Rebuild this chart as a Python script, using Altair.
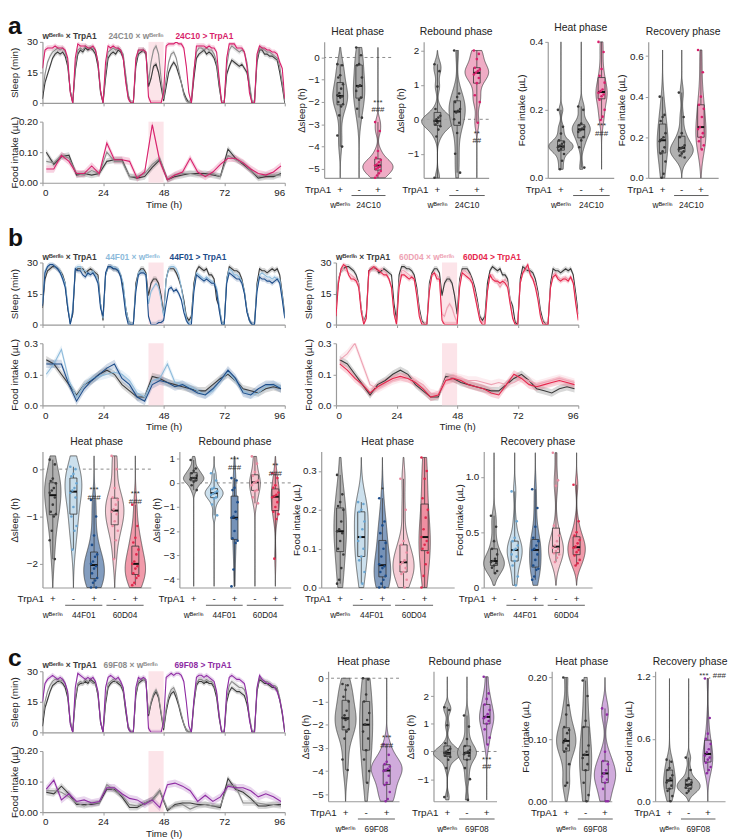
import altair as alt
import pandas as pd

FONT = "Liberation Sans"
INK = "#222222"
AXC = "#9a9a9a"

HOURS = list(range(97))
FOOD_T = [1.5 + 3 * k for k in range(32)]
HEAT = [42, 48]
WB = "wᴮᵉʳˡⁱⁿ"

# ---------------- section a : time series ----------------
A_NAMES = [WB + " × TrpA1", "24C10 × " + WB, "24C10 > TrpA1"]
A_COLS = ["#3b3b3b", "#8c8c8c", "#d81f6b"]
A_SLEEP_DARK = [2,10,14,18,22,24,25,24,25,23,18,6,0,16,24,26,25,27,26,27,26,24,18,5,0,12,22,24,25,24,26,25,22,12,3,0,0,18,24,25,26,24,8,12,18,19,15,8,1,8,15,18,20,18,14,10,5,2,0,0,12,22,24,25,26,24,25,24,22,18,8,0,0,14,18,21,20,19,18,19,17,15,8,0,0,20,26,26,24,24,23,23,22,21,15,8,0]
A_SLEEP_GREY = [5,14,20,23,25,26,27,26,27,25,20,6,0,18,26,27,26,28,27,27,27,26,20,6,0,15,25,26,27,26,27,26,24,14,4,0,0,20,26,26,26,25,10,20,26,28,24,12,2,12,20,24,25,22,16,10,4,1,0,2,16,25,27,27,26,27,26,26,24,20,10,0,0,18,26,28,27,26,25,26,25,20,10,1,0,22,27,27,26,25,25,24,23,22,18,10,1]
A_SLEEP_EXP = [17,26,27,27,27,28,27,27,27,26,22,5,0,22,29,28,28,28,27,27,28,26,20,6,0,20,28,27,28,27,27,26,22,10,2,0,0,22,26,26,26,25,3,0,0,0,0,0,5,28,29,29,29,30,29,29,27,18,5,0,15,28,28,28,28,27,28,27,27,25,12,0,0,22,29,29,29,27,27,27,25,18,5,0,0,24,28,27,27,26,26,25,25,24,20,17,2]
A_FOOD_DARK = [0.1,0.06,0.085,0.09,0.025,0.03,0.025,0.03,0.07,0.075,0.075,0.02,0.015,0.02,0.05,0.075,0.01,0.02,0.025,0.03,0.03,0.03,0.025,0.02,0.11,0.08,0.06,0.04,0.015,0.02,0.02,0.03]
A_FOOD_GREY = [0.07,0.065,0.09,0.08,0.03,0.025,0.04,0.03,0.1,0.07,0.07,0.02,0.02,0.03,0.06,0.08,0.01,0.025,0.03,0.03,0.025,0.025,0.03,0.02,0.09,0.075,0.065,0.04,0.02,0.025,0.025,0.025]
A_FOOD_EXP = [0.045,0.045,0.09,0.07,0.03,0.03,0.055,0.03,0.13,0.075,0.075,0.07,0.015,0.035,0.19,0.07,0.01,0.025,0.035,0.08,0.035,0.02,0.035,0.06,0.08,0.08,0.065,0.045,0.03,0.025,0.035,0.055]

# ---------------- section b : time series ----------------
B1_NAMES = [WB + " × TrpA1", "44F01 × " + WB, "44F01 > TrpA1"]
B1_COLS = ["#3b3b3b", "#8dbbdb", "#1d4d8a"]
B2_NAMES = [WB + " × TrpA1", "60D04 × " + WB, "60D04 > TrpA1"]
B2_COLS = ["#3b3b3b", "#eea3b4", "#e6264c"]
B_SLEEP_DARK = [8,22,26,27,28,28,27,26,24,20,8,1,5,26,27,27,27,25,26,27,26,25,24,10,2,24,28,28,27,27,26,24,18,8,2,0,0,20,25,27,27,25,14,20,22,22,20,14,5,22,27,27,27,25,22,18,12,4,2,4,20,26,28,27,26,27,24,24,22,12,9,1,0,22,28,27,26,26,25,22,16,7,2,0,0,20,27,26,26,25,26,27,26,27,24,15,5]
B_SLEEP_44C = [10,26,28,29,29,28,27,26,23,20,10,0,8,27,28,28,26,26,24,25,26,24,22,10,3,24,28,28,28,27,27,24,20,8,2,0,0,18,25,26,26,24,10,16,18,20,18,12,4,22,27,28,28,27,24,18,10,3,0,2,18,25,24,23,22,23,22,21,20,18,10,1,0,22,27,26,24,24,23,21,16,7,2,0,0,18,24,25,24,23,23,22,23,22,22,14,4]
B_SLEEP_44E = [9,25,28,29,29,28,27,25,22,18,8,0,6,27,26,26,24,23,25,24,25,23,20,8,4,25,28,28,27,27,26,23,15,5,0,0,0,16,24,25,25,24,4,0,0,0,1,1,2,10,17,18,16,17,15,12,6,2,0,0,16,24,23,22,21,22,21,20,20,16,7,0,0,20,25,24,23,22,22,20,15,6,2,0,0,16,23,22,22,21,21,20,21,22,20,12,3]
B_SLEEP_60C = [5,22,26,27,26,25,24,23,22,20,8,1,4,24,27,27,26,26,27,26,25,22,18,6,0,20,26,26,25,24,23,22,16,6,1,0,0,18,24,25,24,22,5,4,8,10,8,4,1,20,26,26,25,24,21,16,10,3,1,2,16,24,24,22,20,18,20,22,20,12,4,0,0,20,25,26,28,25,22,20,14,5,1,0,0,18,24,25,23,22,22,23,22,23,21,12,3]
B_SLEEP_60E = [4,20,27,29,28,24,22,22,21,18,6,0,3,26,27,28,27,26,25,24,24,22,18,5,0,18,24,24,23,22,23,22,14,4,0,0,0,16,24,25,22,22,2,0,0,0,0,0,0,18,25,24,23,22,20,14,8,2,0,0,16,24,22,21,21,20,21,20,18,10,3,0,0,20,25,27,29,24,22,18,12,4,0,0,0,18,23,24,22,21,22,22,21,23,20,10,2]
B_FOOD_DARK = [0.22,0.2,0.15,0.1,0.05,0.1,0.12,0.15,0.17,0.15,0.1,0.07,0.04,0.04,0.14,0.13,0.11,0.1,0.09,0.08,0.07,0.07,0.1,0.13,0.15,0.12,0.08,0.07,0.06,0.08,0.09,0.08]
B_FOOD_44C = [0.15,0.2,0.27,0.12,0.04,0.1,0.13,0.14,0.15,0.16,0.15,0.12,0.06,0.04,0.12,0.13,0.2,0.11,0.1,0.09,0.07,0.05,0.07,0.12,0.16,0.12,0.07,0.05,0.06,0.09,0.1,0.09]
B_FOOD_44E = [0.2,0.2,0.2,0.1,0.02,0.08,0.12,0.15,0.18,0.2,0.13,0.1,0.04,0.02,0.1,0.12,0.11,0.09,0.1,0.08,0.06,0.05,0.08,0.12,0.17,0.13,0.06,0.05,0.08,0.1,0.1,0.08]
B_FOOD_60C = [0.22,0.25,0.3,0.2,0.1,0.08,0.1,0.12,0.13,0.13,0.12,0.1,0.06,0.05,0.13,0.14,0.13,0.12,0.12,0.11,0.1,0.11,0.1,0.11,0.13,0.12,0.1,0.11,0.12,0.13,0.12,0.11]
B_FOOD_60E = [0.2,0.17,0.13,0.1,0.06,0.09,0.11,0.13,0.14,0.13,0.11,0.08,0.04,0.05,0.12,0.13,0.12,0.1,0.09,0.08,0.06,0.05,0.1,0.15,0.13,0.1,0.09,0.1,0.11,0.12,0.11,0.1]

# ---------------- section c : time series ----------------
C_NAMES = [WB + " × TrpA1", "69F08 × " + WB, "69F08 > TrpA1"]
C_COLS = ["#3b3b3b", "#8c8c8c", "#8e2ba3"]
C_SLEEP_DARK = [3,12,16,20,23,24,25,25,24,22,17,5,0,15,23,24,24,25,24,26,25,24,18,5,0,14,22,24,25,25,24,23,20,10,2,0,0,18,24,25,26,25,8,14,18,20,17,9,1,10,16,19,20,17,13,8,4,1,0,0,14,23,25,25,24,25,24,24,22,17,7,0,0,15,20,22,21,20,20,19,18,14,7,0,0,20,26,25,24,24,23,22,22,21,16,9,0]
C_SLEEP_GREY = [6,15,20,23,25,26,26,25,26,24,19,6,0,17,24,25,24,26,25,25,24,24,19,6,0,16,24,25,26,25,25,24,21,12,3,0,0,19,25,26,26,25,9,15,19,21,18,10,2,12,18,21,22,19,14,9,4,1,0,1,15,24,26,26,25,26,25,25,23,19,9,0,0,17,23,25,24,23,22,22,21,17,8,1,0,21,27,26,25,25,24,23,23,22,17,10,1]
C_SLEEP_EXP = [15,24,26,27,28,27,26,27,26,24,20,4,0,22,29,28,27,26,27,26,27,25,20,5,0,22,27,28,27,26,27,25,22,12,2,0,0,22,27,26,27,26,2,0,0,0,0,0,5,27,28,29,28,29,29,28,25,15,3,0,16,27,28,28,27,28,27,26,25,20,8,0,0,20,27,28,27,26,26,25,24,18,6,0,0,22,28,26,25,24,24,23,22,20,16,10,0]
C_FOOD_DARK = [0.065,0.06,0.085,0.06,0.025,0.025,0.025,0.03,0.075,0.075,0.05,0.015,0.015,0.03,0.04,0.07,0.005,0.025,0.03,0.03,0.025,0.025,0.02,0.015,0.11,0.075,0.065,0.045,0.02,0.02,0.025,0.025]
C_FOOD_GREY = [0.07,0.07,0.065,0.05,0.03,0.02,0.03,0.03,0.09,0.07,0.055,0.025,0.02,0.03,0.04,0.07,0.01,0.02,0.025,0.01,0.02,0.025,0.02,0.02,0.09,0.085,0.03,0.03,0.03,0.025,0.025,0.02]
C_FOOD_EXP = [0.075,0.105,0.04,0.06,0.035,0.04,0.03,0.035,0.08,0.08,0.06,0.045,0.04,0.025,0.04,0.015,0.09,0.095,0.085,0.07,0.035,0.055,0.035,0.05,0.085,0.08,0.08,0.07,0.05,0.06,0.05,0.035]

SLEEP_SEM = [1.3, 1.3, 1.3]
FOOD_SEM_A = [0.01, 0.01, 0.012]
FOOD_SEM_B = [0.018, 0.02, 0.02]
FOOD_SEM_C = [0.01, 0.01, 0.012]

# ---------------- violins ----------------
GREY_F, GREY_P = "#a8a8a8", "#3a3a3a"
MAG_F, MAG_P = "#eda3bf", "#d81f6b"
LB_F, LB_P = "#c7ddeb", "#6aa6d2"
NV_F, NV_P = "#7592b8", "#1d4d8a"
LP_F, LP_P = "#f5c6d0", "#e98aa0"
RD_F, RD_P = "#ef8fa1", "#e0294d"
PU_F, PU_P = "#cba2d8", "#8e2ba3"

A_HEAT = [
    [-0.3, -0.35, -0.8, -0.9, -1.2, -1.4, -1.6, -1.7, -1.75, -1.8, -2.0, -2.1, -2.2, -2.6, -3.5, -4.0],
    [0.45, 0.1, -0.3, -0.35, -0.9, -1.25, -1.3, -1.5, -1.8, -1.9, -2.3, -2.7],
    [-2.9, -3.3, -4.2, -4.5, -4.6, -4.7, -4.8, -4.85, -4.9, -4.95, -5.0, -5.1, -5.2, -5.3, -5.4],
]
A_REB = [
    [1.6, 1.4, 0.95, 0.3, 0.1, 0.05, 0.0, -0.05, -0.05, -0.1, -0.15, -0.2, -0.3, -0.5, -1.7],
    [2.0, 0.75, 0.65, 0.5, 0.3, 0.25, 0.2, 0.0, -0.1, -0.4, -1.0, -1.55],
    [2.0, 1.9, 1.75, 1.5, 1.45, 1.4, 1.35, 1.3, 1.2, 1.05, 0.7, 0.5, -0.1],
]
A_FH = [
    [0.2, 0.15, 0.13, 0.11, 0.105, 0.1, 0.095, 0.09, 0.09, 0.085, 0.08, 0.07, 0.05, 0.025],
    [0.21, 0.2, 0.16, 0.155, 0.15, 0.145, 0.14, 0.135, 0.12, 0.11, 0.09, 0.03],
    [0.4, 0.37, 0.32, 0.3, 0.28, 0.26, 0.255, 0.25, 0.245, 0.24, 0.23, 0.2, 0.18, 0.17],
]
A_REC = [
    [0.4, 0.31, 0.3, 0.28, 0.22, 0.2, 0.19, 0.18, 0.15, 0.13, 0.12, 0.08, 0.02, 0.0],
    [0.42, 0.3, 0.22, 0.2, 0.16, 0.15, 0.145, 0.14, 0.13, 0.12, 0.11, 0.1],
    [0.63, 0.52, 0.4, 0.36, 0.34, 0.3, 0.25, 0.24, 0.22, 0.2, 0.18, 0.16, 0.14],
]
B_HEAT = [
    [0.2, 0.1, -0.2, -0.25, -0.3, -0.4, -0.45, -0.5, -0.6, -0.75, -0.9, -0.95, -1.0, -1.3, -1.5, -1.9],
    [0.05, 0.0, -0.1, -0.15, -0.3, -0.4, -0.45, -0.5, -0.6, -0.8, -1.0, -1.2, -1.3, -1.7],
    [-0.65, -1.0, -1.4, -1.6, -1.8, -1.85, -1.95, -2.0, -2.05, -2.1, -2.2, -2.3, -2.35, -2.4, -2.5, -2.5],
    [0.28, 0.0, -0.4, -0.6, -0.65, -0.75, -0.85, -0.9, -0.95, -1.1, -1.2, -1.3, -1.5, -1.9],
    [-0.75, -1.2, -1.45, -1.55, -1.7, -1.8, -1.95, -2.0, -2.05, -2.1, -2.2, -2.25, -2.3, -2.4, -2.45],
]
B_REB = [
    [0.95, 0.6, 0.5, 0.4, 0.3, 0.2, 0.2, 0.15, 0.1, 0.05, -0.1, -0.3],
    [0.4, 0.1, -0.2, -0.25, -0.35, -0.4, -0.45, -0.5, -0.6, -0.65, -0.9, -1.35],
    [0.2, 0.1, -0.2, -0.3, -0.8, -1.2, -1.4, -1.45, -1.5, -2.0, -2.3, -2.4, -2.5, -3.6, -4.3],
    [1.1, 0.8, 0.45, 0.3, 0.1, 0.05, 0.0, -0.1, -0.3, -0.35, -0.6, -0.85],
    [0.4, 0.2, -0.1, -0.2, -0.4, -0.5, -0.55, -0.6, -0.8, -1.0, -1.2, -1.3, -1.5, -3.15],
]
B_FH = [
    [0.29, 0.24, 0.22, 0.21, 0.2, 0.17, 0.15, 0.145, 0.14, 0.12, 0.1, 0.085, 0.05, 0.02, 0.01],
    [0.22, 0.215, 0.2, 0.195, 0.17, 0.15, 0.13, 0.12, 0.1, 0.08, 0.07, 0.04, 0.01],
    [0.23, 0.17, 0.16, 0.14, 0.115, 0.1, 0.08, 0.06, 0.055, 0.05, 0.04, 0.03, 0.02, 0.01, 0.0, 0.0],
    [0.28, 0.2, 0.12, 0.11, 0.09, 0.07, 0.065, 0.06, 0.05, 0.04, 0.035, 0.02, 0.0],
    [0.335, 0.3, 0.28, 0.23, 0.2, 0.18, 0.15, 0.13, 0.12, 0.11, 0.1, 0.09, 0.06, 0.03, 0.0],
]
B_REC = [
    [0.65, 0.55, 0.42, 0.35, 0.3, 0.26, 0.24, 0.23, 0.22, 0.2, 0.18, 0.15, 0.13],
    [0.87, 0.6, 0.45, 0.42, 0.38, 0.35, 0.34, 0.3, 0.28, 0.24, 0.2, 0.1, 0.02],
    [0.89, 0.72, 0.55, 0.45, 0.42, 0.38, 0.35, 0.34, 0.3, 0.25, 0.2, 0.17, 0.16, 0.1, 0.07],
    [1.22, 0.97, 0.92, 0.56, 0.47, 0.42, 0.38, 0.36, 0.35, 0.33, 0.31, 0.3, 0.27, 0.23],
    [0.93, 0.6, 0.5, 0.47, 0.43, 0.4, 0.37, 0.36, 0.34, 0.32, 0.29, 0.25, 0.22, 0.2],
]
C_HEAT = [
    [-0.25, -0.3, -0.5, -0.8, -1.0, -1.4, -1.6, -1.7, -1.75, -1.8, -2.1, -2.2, -2.3, -2.6, -3.5, -3.95],
    [0.0, -0.05, -0.7, -1.0, -1.5, -1.8, -2.0, -2.3, -2.6, -3.1, -3.5, -4.0, -4.5],
    [-2.85, -3.3, -3.6, -3.7, -3.8, -3.9, -3.95, -4.0, -4.2, -4.5, -4.6, -4.9, -5.2, -5.3],
]
C_REB = [
    [1.6, 1.5, 0.95, 0.3, 0.1, 0.05, 0.0, -0.05, -0.1, -0.1, -0.15, -0.2, -0.3, -0.6, -1.65],
    [1.3, 0.9, 0.45, 0.2, 0.05, 0.0, -0.05, -0.1, -0.15, -0.3, -0.6, -1.0, -1.75],
    [2.7, 2.1, 1.9, 1.7, 1.5, 1.35, 1.25, 1.2, 1.1, 1.0, 0.8, 0.5, 0.25],
]
C_FH = [
    [0.2, 0.155, 0.14, 0.12, 0.115, 0.11, 0.1, 0.095, 0.09, 0.085, 0.08, 0.06, 0.03, 0.025],
    [0.195, 0.17, 0.13, 0.12, 0.09, 0.08, 0.075, 0.07, 0.06, 0.05, 0.03, 0.01, 0.0],
    [0.15, 0.14, 0.08, 0.065, 0.06, 0.05, 0.045, 0.04, 0.035, 0.03, 0.02, 0.0, 0.0],
]
C_REC = [
    [0.4, 0.38, 0.32, 0.3, 0.25, 0.22, 0.2, 0.18, 0.15, 0.12, 0.1, 0.05, 0.0],
    [0.42, 0.3, 0.22, 0.2, 0.18, 0.16, 0.15, 0.13, 0.12, 0.1, 0.08],
    [1.18, 0.8, 0.65, 0.6, 0.55, 0.5, 0.47, 0.44, 0.42, 0.4, 0.37, 0.33, 0.3, 0.27],
]

SIGNS3 = ["+", "-", "+"]
SIGNS5 = ["+", "-", "+", "-", "+"]


# ======================================================================
def ts_block(sleep, food, names, cols, fsem, fmax, fticks, legend_x, letter, letter_y, W=246, H=61):
    xs = alt.Scale(domain=[0, 96], nice=False)
    heat_df = pd.DataFrame({"a": [HEAT[0]], "b": [HEAT[1]]})

    def panel(times, series, sems, ymax, yticks, ytitle, bottom):
        ys = alt.Scale(domain=[0, ymax], nice=False)
        xax = alt.Axis(values=[0, 24, 48, 72, 96], labels=bottom, title="Time (h)" if bottom else "",
                       tickSize=3, labelPadding=2, titlePadding=2, grid=False)
        yax = alt.Axis(values=yticks, title=ytitle, minExtent=22, maxExtent=22, tickSize=3,
                       labelPadding=2, titlePadding=1, grid=False)
        layers = [alt.Chart(heat_df).mark_rect(color="#fce4e9").encode(
            x=alt.X("a:Q", scale=xs, axis=xax), x2="b:Q")]
        for vals, c, sem in zip(series, cols, sems):
            df = pd.DataFrame({"t": times, "v": vals})
            df["lo"] = (df["v"] - sem).clip(lower=0)
            df["hi"] = df["v"] + sem
            layers.append(alt.Chart(df).mark_area(color=c, opacity=0.2, clip=True).encode(
                x=alt.X("t:Q", scale=xs, axis=xax),
                y=alt.Y("lo:Q", scale=ys, axis=yax), y2="hi:Q"))
        for vals, c in zip(series, cols):
            df = pd.DataFrame({"t": times, "v": vals})
            layers.append(alt.Chart(df).mark_line(color=c, strokeWidth=1.1, clip=True).encode(
                x=alt.X("t:Q", scale=xs, axis=xax), y=alt.Y("v:Q", scale=ys, axis=yax)))
        return layers

    sl = panel(HOURS, sleep, SLEEP_SEM, 30, [0, 15, 30], "Sleep (min)", False)
    dummy = pd.DataFrame({"k": [0]})
    for name, c, px in zip(names, cols, legend_x):
        sl.append(alt.Chart(dummy).mark_text(align="left", fontSize=8.5, fontWeight="bold", color=c).encode(
            x=alt.value(px), y=alt.value(-6), text=alt.value(name)))
    if letter:
        sl.append(alt.Chart(dummy).mark_text(align="left", fontSize=25, fontWeight="bold", color="#111").encode(
            x=alt.value(-35), y=alt.value(letter_y), text=alt.value(letter)))
    fd = panel(FOOD_T, food, fsem, fmax, fticks, "Food intake (µL)", True)
    s = alt.layer(*sl).properties(width=W, height=H)
    f = alt.layer(*fd).properties(width=W, height=H)
    return alt.vconcat(s, f, spacing=8)


def violin(groups, fills, pcols, ydom, yticks, xdom, W, H, title, ytitle, genos, bars, sigs,
           zero=False, ext=15, hw=0.8, fmt=None):
    n = len(groups)
    rows = []
    for g, vals in enumerate(groups):
        for i, v in enumerate(vals):
            rows.append({"g": g, "v": v, "i": i, "fc": fills[g], "pc": pcols[g]})
    df = pd.DataFrame(rows)
    xs = alt.Scale(domain=xdom, nice=False, zero=False)
    ys = alt.Scale(domain=ydom, nice=False, zero=False)
    yargs = dict(values=yticks, title=ytitle, minExtent=ext, maxExtent=ext, tickSize=3,
                 labelPadding=2, titlePadding=3, grid=False)
    if fmt:
        yargs["labelExpr"] = fmt
    yax = alt.Axis(**yargs)
    xax = alt.Axis(values=[], labels=False, ticks=False, title="", grid=False)

    def X(f):
        return alt.X(f, scale=xs, axis=xax)

    def Y(f):
        return alt.Y(f, scale=ys, axis=yax)

    base = alt.Chart(df)
    layers = []
    if zero:
        layers.append(alt.Chart(pd.DataFrame({"z": [0]})).mark_rule(
            color="#8a8a8a", strokeDash=[3, 3], strokeWidth=1).encode(y=Y("z:Q")))
    layers.append(base.transform_density("v", groupby=["g", "fc"], as_=["v", "density"])
                  .transform_joinaggregate(maxd="max(density)")
                  .transform_calculate(x1=f"datum.g - {hw} * datum.density / datum.maxd",
                                       x2=f"datum.g + {hw} * datum.density / datum.maxd")
                  .mark_area(orient="horizontal", stroke="#3a3a3a", strokeWidth=0.7, fillOpacity=0.9)
                  .encode(y=Y("v:Q"), x=X("x1:Q"), x2="x2:Q",
                          fill=alt.Fill("fc:N", scale=None), detail="g:N"))
    stats = base.transform_aggregate(q1="q1(v)", q3="q3(v)", med="median(v)", lo="min(v)", hi="max(v)",
                                     groupby=["g", "fc"]).transform_calculate(
        b1="datum.g - 0.17", b2="datum.g + 0.17")
    layers.append(stats.mark_rule(color="#333", strokeWidth=0.7).encode(x=X("g:Q"), y=Y("lo:Q"), y2="hi:Q"))
    layers.append(stats.mark_rect(stroke="#333", strokeWidth=0.8).encode(
        x=X("b1:Q"), x2="b2:Q", y=Y("q1:Q"), y2="q3:Q", fill=alt.Fill("fc:N", scale=None)))
    layers.append(stats.mark_rule(color="#111", strokeWidth=2).encode(x=X("b1:Q"), x2="b2:Q", y=Y("med:Q")))
    layers.append(base.transform_calculate(xj="datum.g + (((datum.i * 5) % 7) - 3) * 0.05")
                  .mark_circle(size=7, opacity=1).encode(x=X("xj:Q"), y=Y("v:Q"),
                                                         color=alt.Color("pc:N", scale=None)))
    if sigs:
        sdf = pd.DataFrame({"g": [s[0] for s in sigs], "y": [s[1] for s in sigs], "t": [s[2] for s in sigs]})
        layers.append(alt.Chart(sdf).mark_text(fontSize=8, lineHeight=8, baseline="top", lineBreak="\n",
                                               color="#333").encode(x=X("g:Q"), y=Y("y:Q"), text="t:N"))
    signs = SIGNS3 if n == 3 else SIGNS5
    layers.append(alt.Chart(pd.DataFrame({"g": list(range(n)), "s": signs})).mark_text(
        fontSize=10, color=INK).encode(x=X("g:Q"), y=alt.value(H + 12), text="s:N"))
    layers.append(alt.Chart(pd.DataFrame({"g": [0]})).mark_text(
        fontSize=10, align="right", dx=-9, color=INK).encode(x=X("g:Q"), y=alt.value(H + 12),
                                                               text=alt.value("TrpA1")))
    gdf = pd.DataFrame({"x": [p[0] for p in genos], "t": [p[1] for p in genos]})
    layers.append(alt.Chart(gdf).mark_text(fontSize=8.5, color=INK).encode(
        x=X("x:Q"), y=alt.value(H + 28), text="t:N"))
    bdf = pd.DataFrame({"a": [b[0] for b in bars], "b": [b[1] for b in bars]})
    layers.append(alt.Chart(bdf).mark_rule(color="#333", strokeWidth=0.8).encode(
        x=X("a:Q"), x2="b:Q", y=alt.value(H + 18)))
    tp = alt.TitleParams(title, fontSize=10.5, fontWeight="normal", offset=4)
    return alt.layer(*layers).properties(width=W, height=H, title=tp)


DS = "∆sleep (h)"
FI = "Food intake (µL)"

# ---------------- section a ----------------
G3A = [(0, WB), (1.5, "24C10")]
BAR3 = [(0.6, 2.4)]
tsA = ts_block([A_SLEEP_DARK, A_SLEEP_GREY, A_SLEEP_EXP], [A_FOOD_DARK, A_FOOD_GREY, A_FOOD_EXP],
               A_NAMES, A_COLS, FOOD_SEM_A, 0.2, [0, 0.1, 0.2], [0, 67, 135], "a", -16, H=62)
FA = [GREY_F, GREY_F, MAG_F]
PA = [GREY_P, GREY_P, MAG_P]
HA = 138
vA1 = violin(A_HEAT, FA, PA, [-5.4, 0.7], [0, -1, -2, -3, -4, -5], [-0.85, 2.7], 68, HA, "Heat phase", DS,
             G3A, BAR3, [(2, -1.85, "***\n###")], zero=True, hw=0.8)
vA2 = violin(A_REB, FA, PA, [-1.7, 2.25], [-1, 0, 1, 2], [-0.7, 2.6], 66, HA, "Rebound phase", DS,
             G3A, BAR3, [(2, -0.3, "**\n##")], zero=True, hw=0.8)
vA3 = violin(A_FH, FA, PA, [0, 0.4], [0, 0.2, 0.4], [-0.65, 2.6], 67, HA, "Heat phase", FI,
             G3A, BAR3, [(2, 0.165, "***\n###")], ext=19, hw=0.6)
vA4 = violin(A_REC, FA, PA, [0, 0.67], [0, 0.2, 0.4, 0.6], [-0.75, 2.9], 71, HA, "Recovery phase", FI,
             G3A, BAR3, [], ext=19, hw=0.6)
secA = alt.hconcat(alt.hconcat(tsA, alt.hconcat(vA1, vA2, spacing=1), spacing=11),
                   alt.hconcat(vA3, vA4, spacing=3), spacing=23)

# ---------------- section b ----------------
tsB1 = ts_block([B_SLEEP_DARK, B_SLEEP_44C, B_SLEEP_44E], [B_FOOD_DARK, B_FOOD_44C, B_FOOD_44E],
                B1_NAMES, B1_COLS, FOOD_SEM_B, 0.3, [0, 0.15, 0.3], [0, 64, 129], "b", -25, H=63)
tsB2 = ts_block([B_SLEEP_DARK, B_SLEEP_60C, B_SLEEP_60E], [B_FOOD_DARK, B_FOOD_60C, B_FOOD_60E],
                B2_NAMES, B2_COLS, FOOD_SEM_B, 0.3, [0, 0.15, 0.3], [0, 64, 129], "", -25, H=63)
FB = [GREY_F, LB_F, NV_F, LP_F, RD_F]
PB = [GREY_P, LB_P, NV_P, LP_P, RD_P]
G5 = [(0, WB), (1.5, "44F01"), (3.5, "60D04")]
BAR5 = [(0.6, 2.4), (2.6, 4.4)]
HB = 138
vB1 = violin(B_HEAT, FB, PB, [-2.5, 0.37], [-2, -1, 0], [-0.5, 4.75], 110, HB, "Heat phase", DS,
             G5, BAR5, [(2, -0.35, "***\n###"), (4, -0.45, "***\n###")], zero=True, ext=20, hw=0.5)
vB2 = violin(B_REB, FB, PB, [-4.35, 1.3], [-4, -3, -2, -1, 0, 1], [-0.7, 4.75], 113, HB, "Rebound phase", DS,
             G5, BAR5, [(2, 1.1, "***\n###"), (4, 0.85, "**\n###")], zero=True, hw=0.5)
vB3 = violin(B_FH, FB, PB, [0, 0.35], [0, 0.1, 0.2, 0.3], [-0.9, 5.4], 135, HB, "Heat phase", FI,
             G5, BAR5, [(2, 0.26, "*")], ext=17, hw=0.5)
vB4 = violin(B_REC, FB, PB, [0, 1.23], [0, 0.5, 1.0], [-0.5, 4.75], 110, HB, "Recovery phase", FI,
             G5, BAR5, [], ext=17, hw=0.5,
             fmt="datum.value == 0 ? '0' : format(datum.value, '.1f')")
secB = alt.vconcat(alt.hconcat(tsB1, tsB2, spacing=18),
                   alt.hconcat(vB1, vB2, vB3, vB4, spacing=0), spacing=5)

# ---------------- section c ----------------
G3C = [(0, WB), (1.5, "69F08")]
tsC = ts_block([C_SLEEP_DARK, C_SLEEP_GREY, C_SLEEP_EXP], [C_FOOD_DARK, C_FOOD_GREY, C_FOOD_EXP],
               C_NAMES, C_COLS, FOOD_SEM_C, 0.2, [0, 0.1, 0.2], [0, 62, 134], "c", -13, H=62)
FC = [GREY_F, GREY_F, PU_F]
PC = [GREY_P, GREY_P, PU_P]
HC = 132
vC1 = violin(C_HEAT, FC, PC, [-5.3, 0.3], [0, -1, -2, -3, -4, -5], [-0.85, 2.6], 72, HC, "Heat phase", DS,
             G3C, BAR3, [(2, -2.4, "***\n###")], zero=True, hw=0.75)
vC2 = violin(C_REB, FC, PC, [-1.8, 2.9], [-1, 0, 1, 2], [-0.7, 2.5], 64, HC, "Rebound phase", DS,
             G3C, BAR3, [(2, -0.15, "***\n##")], zero=True, hw=0.7)
vC3 = violin(C_FH, FC, PC, [0, 0.21], [0, 0.1, 0.2], [-0.75, 2.35], 61, HC, "Heat phase", FI,
             G3C, BAR3, [], ext=19, hw=0.55)
vC4 = violin(C_REC, FC, PC, [0, 1.25], [0, 0.6, 1.2], [-0.75, 2.9], 71, HC, "Recovery phase", FI,
             G3C, BAR3, [(2.25, 1.24, "***, ###")], ext=19, hw=0.6)
secC = alt.hconcat(alt.hconcat(tsC, alt.hconcat(vC1, vC2, spacing=2), spacing=15),
                   alt.hconcat(vC3, vC4, spacing=6), spacing=18)

chart = alt.vconcat(alt.vconcat(secA, secB, spacing=16), secC, spacing=27).properties(padding=0).configure(
    font=FONT).configure_view(stroke=None).configure_axis(
    labelFont=FONT, titleFont=FONT, labelColor=INK, titleColor=INK, domainColor=AXC, tickColor=AXC,
    domainWidth=1.2, labelFontSize=10, titleFontSize=10, titleFontWeight="normal", grid=False).configure_title(
    font=FONT, color=INK).configure_text(font=FONT)

chart.save("out.html", embed_options={"renderer": "svg", "actions": False})
